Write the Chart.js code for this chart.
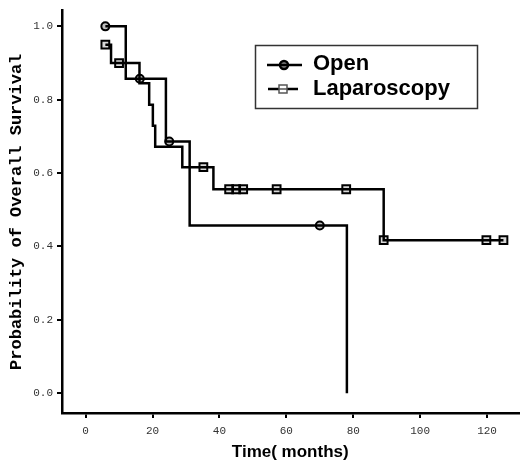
<!DOCTYPE html>
<html>
<head>
<meta charset="utf-8">
<script src="https://cdn.jsdelivr.net/npm/chart.js@4.4.0/dist/chart.umd.min.js"></script>
<style>
  html, body { margin: 0; padding: 0; background: #fff; }
  #wrap { width: 526px; height: 463px; }
</style>
</head>
<body>
<div id="wrap"><canvas id="kmChart" width="526" height="463"></canvas></div>
<script>
// Datos (meses, supervivencia, censurado)
const openTimes    = [5.9, 12.0, 16.2, 24.0, 25.0, 31.1, 70.0, 78.1];
const openSurv     = [1.0, 0.857, 0.857, 0.686, 0.686, 0.457, 0.457, 0.0];
const openCensored = [1, 0, 1, 0, 1, 0, 1, 0];

const lapTimes    = [5.9, 7.6, 10.0, 16.1, 19.0, 20.1, 20.8, 28.9, 35.2, 38.2, 42.9, 45.0, 47.1, 57.1, 77.9, 89.1, 119.8, 124.9];
const lapSurv     = [0.95, 0.9, 0.9, 0.845, 0.786, 0.729, 0.672, 0.616, 0.616, 0.556, 0.556, 0.556, 0.556, 0.556, 0.556, 0.417, 0.417, 0.417];
const lapCensored = [1, 0, 1, 0, 0, 0, 0, 0, 1, 0, 1, 1, 1, 1, 1, 1, 1, 1];

const xTicks = [0, 20, 40, 60, 80, 100, 120];
const yTicks = [0.0, 0.2, 0.4, 0.6, 0.8, 1.0];

const toPoints = (t, s) => t.map((v, i) => ({ x: v, y: s[i] }));

// Leyenda dibujada dentro del area
const legendBox = {
    id: 'legendBox',
    afterDraw(chart) {
        const ctx = chart.ctx;
        ctx.save();
        ctx.strokeStyle = '#333';
        ctx.lineWidth = 1.5;
        ctx.strokeRect(255.5, 45.5, 222, 63);

        ctx.strokeStyle = '#000';
        ctx.lineWidth = 2.5;
        ctx.beginPath();
        ctx.moveTo(267, 65); ctx.lineTo(302, 65);
        ctx.moveTo(268, 89); ctx.lineTo(298, 89);
        ctx.stroke();

        ctx.beginPath();
        ctx.arc(284, 65, 4, 0, Math.PI * 2);
        ctx.fillStyle = 'rgba(0,0,0,0.45)';
        ctx.fill();
        ctx.stroke();

        ctx.lineWidth = 1.5;
        ctx.strokeStyle = '#555';
        ctx.fillStyle = '#fff';
        ctx.fillRect(279, 85, 8, 8);
        ctx.strokeRect(279, 85, 8, 8);
        ctx.beginPath();
        ctx.moveTo(279, 89); ctx.lineTo(287, 89);
        ctx.stroke();

        ctx.fillStyle = '#000';
        ctx.font = 'bold 22px "Liberation Sans", Arial, sans-serif';
        ctx.textBaseline = 'middle';
        ctx.fillText('Open', 313, 64);
        ctx.fillText('Laparoscopy', 313, 89);
        ctx.restore();
    }
};

const ctx = document.getElementById('kmChart').getContext('2d');
new Chart(ctx, {
    type: 'line',
    data: {
        datasets: [{
            label: 'Open',
            data: toPoints(openTimes, openSurv),
            borderColor: '#000',
            borderWidth: 2.5,
            stepped: 'before',
            pointStyle: 'circle',
            pointRadius: openCensored.map(c => c ? 4 : 0),
            pointBorderWidth: 2,
            pointBorderColor: '#000',
            pointBackgroundColor: 'rgba(0,0,0,0.25)',
            fill: false
        }, {
            label: 'Laparoscopy',
            data: toPoints(lapTimes, lapSurv),
            borderColor: '#000',
            borderWidth: 2.5,
            stepped: 'before',
            pointStyle: 'rect',
            pointRadius: lapCensored.map(c => c ? 5.5 : 0),
            pointBorderWidth: 2,
            pointBorderColor: '#000',
            pointBackgroundColor: 'rgba(0,0,0,0.15)',
            fill: false
        }]
    },
    options: {
        responsive: false,
        animation: false,
        layout: { padding: { top: 8, right: 0, left: 0, bottom: 0 } },
        plugins: {
            legend: { display: false },
            tooltip: { enabled: false }
        },
        scales: {
            x: {
                type: 'linear',
                min: -7.06,
                max: 129.4,
                afterBuildTicks: s => { s.ticks = xTicks.map(v => ({ value: v })); },
                afterFit: s => { s.height = 50; },
                border: { color: '#000', width: 2.5 },
                grid: { drawOnChartArea: false, drawTicks: true, tickLength: 5, color: '#000', lineWidth: 2 },
                ticks: {
                    color: '#333',
                    padding: 6,
                    font: { family: '"Liberation Mono", "DejaVu Sans Mono", monospace', size: 11 },
                    callback: v => String(v)
                },
                title: {
                    display: true,
                    text: 'Time( months)',
                    color: '#000',
                    padding: { top: 0, bottom: 0 },
                    font: { family: '"Liberation Sans", Arial, sans-serif', size: 17, weight: 'bold', lineHeight: 1.2 }
                }
            },
            y: {
                type: 'linear',
                min: -0.054,
                max: 1.043,
                afterBuildTicks: s => { s.ticks = yTicks.map(v => ({ value: v })); },
                afterFit: s => { s.width = 62; },
                border: { color: '#000', width: 2.5 },
                grid: { drawOnChartArea: false, drawTicks: true, tickLength: 5, color: '#000', lineWidth: 2 },
                ticks: {
                    color: '#333',
                    padding: 4,
                    font: { family: '"Liberation Mono", "DejaVu Sans Mono", monospace', size: 11 },
                    callback: v => v.toFixed(1)
                },
                title: {
                    display: true,
                    text: 'Probability of Overall Survival',
                    color: '#000',
                    padding: { top: 7, bottom: 4 },
                    font: { family: '"Liberation Mono", "Courier New", monospace', size: 17, weight: 'bold', lineHeight: 1.2 }
                }
            }
        }
    },
    plugins: [legendBox]
});
</script>
</body>
</html>
